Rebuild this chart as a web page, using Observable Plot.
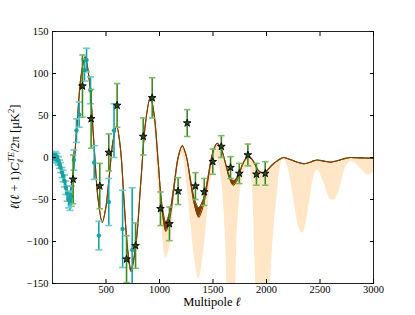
<!DOCTYPE html>
<html><head><meta charset="utf-8">
<script src="https://cdn.jsdelivr.net/npm/d3@7"></script>
<script src="https://cdn.jsdelivr.net/npm/@observablehq/plot@0.6"></script>
<style>body{margin:0;background:#fff} svg{display:block}</style>
</head><body><div id="chart"></div>
<script>
const xTicks = [500, 1000, 1500, 2000, 2500, 3000];
const yTicks = [-150, -100, -50, 0, 50, 100, 150];

// theory curve (upper edge / lower edge of dark band) and light band lower edge
const theoryEll = [2,20,40,60,80,100,125,150,189,228,266,305,345,385,425,465,498,532,566,600,634,667,701,735,780,825,870,915,951,987,1023,1060,1098,1136,1174,1212,1250,1290,1328,1367,1410,1453,1496,1539,1577,1615,1652,1690,1726,1762,1798,1835,1864,1892,1921,1950,1990,2030,2060,2100,2130,2160,2200,2255,2300,2330,2350,2400,2440,2474,2536,2598,2640,2690,2740,2785,2840,2900,2950,3000];
const theoryHi = [0.5,2,1.5,-2,-10,-22,-38,-46,-22,37,96,120,91,21,-48,-77,-60,-20,20,37,12,-48,-108,-133,-103,-30,42,72,50,-4,-56,-77,-64,-33,0,14,2,-26,-50,-60,-50,-24,5,17,10,-6,-21,-28,-24,-13,-3,1,-2,-8,-15,-18,-17,-12,-8,-4,-1.5,0,-1.5,-4,-6,-7,-7.5,-6,-4,-3,-4.3,-5.5,-4.5,-2.8,-1,0,-0.3,-0.5,-0.8,-1];
const theoryLo = [0.5,2,1.5,-2,-10,-22,-38,-46,-22,37,96,120,91,21,-48,-77,-60,-20,20,37,12,-48,-108,-136,-103,-30,42,72,50,-4,-61,-88,-72,-36,0,14,2,-29,-57,-71,-57,-27,5,17,10,-6,-24,-33,-27,-13,-3,1,-2,-8,-15,-18,-17,-12,-8,-4,-1.5,0,-1.5,-4,-6,-7,-7.5,-6,-4,-3,-4.3,-5.5,-4.5,-2.8,-1,0,-0.3,-0.5,-0.8,-1];
const bandLo = [null,null,null,null,null,null,null,null,null,null,null,null,null,null,null,null,null,null,null,null,null,null,null,null,null,null,42,68,40,-30,-85,-120,-105,-55,-12,5,-25,-75,-120,-145,-115,-60,-15,0,-25,-90,-200,-220,-90,-35,-15,-8,-30,-120,-220,-260,-250,-170,-100,-45,-12,-1,-12,-50,-82,-90,-88,-55,-25,-15,-30,-50,-50,-35,-12,-5,-8,-16,-21,-18];

// teal data (circles)
const tealEll = [3,6,9,13,17,22,27,33,40,47,55,65,76,88,100,112,124,137,150,163,176,200,224,249,299,318,355,390,433,526,575,655,745];
const tealVal = [1,3,0,-1,2,0,3,-2,1,-3,-4,-8,-12,-18,-22,-28,-36,-43,-50,-52,-46,-3,32,51,104,116,80,-6,-93,-53,32,-85,-110];
const tealErr = [3,3,3,3,4,4,4,4,4,4,5,5,6,6,7,7,8,9,10,11,12,12,14,15,13,14,16,20,17,28,32,46,74];

// green data (stars)
const starEll = [193,280,361,442,526,604,692,776,848,932,1009,1093,1174,1259,1336,1418,1498,1578,1664,1746,1826,1906,1988];
const starVal = [-26,85,46,-34,6,62,-121,-105,25,71,-61,-79,-40,41,-34,-41,-5,13,-12,-19,3,-20,-19];
const starErr = [29,37,35,27,22,26,28,27,22,24,20,20,16,16,16,16,15,13,13,12,13,13,14];

const theory = theoryEll.map((e, i) => ({ell: e, hi: theoryHi[i], lo: theoryLo[i], band: bandLo[i]}));
const band = theory.filter(d => d.band !== null);
const teal = tealEll.map((e, i) => ({ell: e, v: tealVal[i], lo: tealVal[i] - tealErr[i], hi: tealVal[i] + tealErr[i]}));
const stars = starEll.map((e, i) => ({ell: e, v: starVal[i], lo: starVal[i] - starErr[i], hi: starVal[i] + starErr[i]}));

const capSymbol = {draw(ctx, size) { const w = Math.sqrt(size / Math.PI); ctx.moveTo(-w, 0); ctx.lineTo(w, 0); }};

const brown = "#7f3f00", bandColor = "#ffe6c6";
const tealC = "#17a3a6", tealCap = "#6fcbcc";
const greenC = "#3d8a22", greenCap = "#7dbb66";
const font = "'Liberation Serif', 'DejaVu Serif', serif";
const fmt = d3.format("d");

const plot = Plot.plot({
  width: 415, height: 315,
  marginLeft: 52, marginRight: 42, marginTop: 31, marginBottom: 32,
  style: {fontFamily: font, fontSize: "10.5px", background: "#fff", color: "#000"},
  x: {domain: [0, 3000]},
  y: {domain: [-150, 150]},
  marks: [
    Plot.areaY(band, {x: "ell", y1: "band", y2: "hi", fill: bandColor, curve: "catmull-rom", clip: true}),
    Plot.areaY(theory, {x: "ell", y1: "lo", y2: "hi", fill: brown, curve: "catmull-rom", clip: true}),
    Plot.line(theory, {x: "ell", y: "hi", stroke: brown, strokeWidth: 1.1, curve: "catmull-rom", clip: true}),
    Plot.line(theory, {x: "ell", y: "lo", stroke: brown, strokeWidth: 1.1, curve: "catmull-rom", clip: true}),
    Plot.ruleX(teal, {x: "ell", y1: "lo", y2: "hi", stroke: tealC, strokeWidth: 1.6, clip: true}),
    Plot.dot(teal, {x: "ell", y: "lo", symbol: capSymbol, r: 3.5, fill: "none", stroke: tealCap, strokeWidth: 1.6, clip: true}),
    Plot.dot(teal, {x: "ell", y: "hi", symbol: capSymbol, r: 3.5, fill: "none", stroke: tealCap, strokeWidth: 1.6, clip: true}),
    Plot.dot(teal, {x: "ell", y: "v", r: 2.2, fill: tealC, stroke: "none", clip: true}),
    Plot.ruleX(stars, {x: "ell", y1: "lo", y2: "hi", stroke: greenC, strokeWidth: 1.6, clip: true}),
    Plot.dot(stars, {x: "ell", y: "lo", symbol: capSymbol, r: 3.2, fill: "none", stroke: greenCap, strokeWidth: 1.6, clip: true}),
    Plot.dot(stars, {x: "ell", y: "hi", symbol: capSymbol, r: 3.2, fill: "none", stroke: greenCap, strokeWidth: 1.6, clip: true}),
    Plot.dot(stars, {x: "ell", y: "v", symbol: "star", r: 2.4, fill: "#2c4d18", stroke: "#000", strokeWidth: 0.9, clip: true}),
    Plot.frame({stroke: "#222", strokeWidth: 1}),
    Plot.axisX(xTicks, {anchor: "bottom", tickSize: 0, tickPadding: 2, tickFormat: fmt, label: null}),
    Plot.axisX(xTicks, {anchor: "bottom", tickSize: -4, tickFormat: () => "", label: null}),
    Plot.axisX(xTicks, {anchor: "top", tickSize: -4, tickFormat: () => "", label: null}),
    Plot.axisY(yTicks, {anchor: "left", tickSize: 0, tickPadding: 4, tickFormat: fmt, label: null}),
    Plot.axisY(yTicks, {anchor: "left", tickSize: -4, tickFormat: () => "", label: null}),
    Plot.axisY(yTicks, {anchor: "right", tickSize: -4, tickFormat: () => "", label: null})
  ]
});
document.getElementById("chart").appendChild(plot);

const svg = d3.select(plot);
svg.append("text")
  .attr("x", 212).attr("y", 306)
  .attr("text-anchor", "middle")
  .style("font-family", font).style("font-size", "12.5px")
  .html('Multipole <tspan font-style="italic">ℓ</tspan>');
const yl = svg.append("text")
  .attr("transform", "translate(19,157) rotate(-90)")
  .attr("text-anchor", "middle")
  .style("font-family", font).style("font-size", "12.5px");
yl.html('<tspan font-style="italic">ℓ</tspan>(<tspan font-style="italic">ℓ</tspan> + 1)<tspan font-style="italic">C</tspan><tspan font-style="italic" font-size="8.5px" dy="3.5">ℓ</tspan><tspan font-style="italic" font-size="8.5px" dx="-3" dy="-9">TE</tspan><tspan dy="5.5">/2π [μK</tspan><tspan font-size="8.5px" dy="-5">2</tspan><tspan dy="5">]</tspan>');
</script>
</body></html>
